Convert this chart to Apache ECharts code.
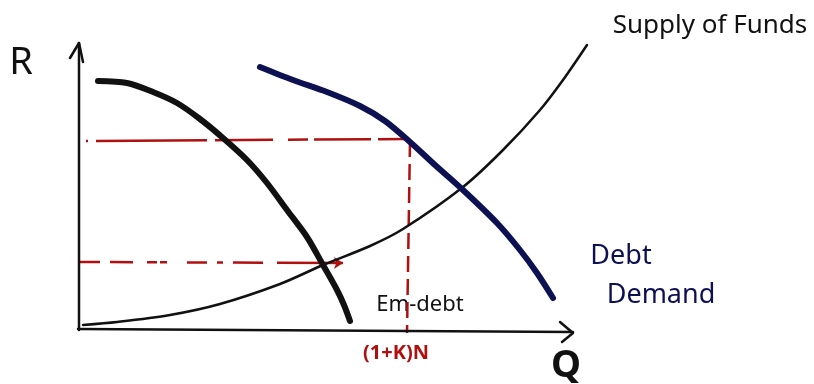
<!DOCTYPE html>
<html>
<head>
<meta charset="utf-8">
<script src="https://cdn.jsdelivr.net/npm/echarts@6/dist/echarts.min.js"></script>
<style>
  html, body { margin: 0; padding: 0; background: #fff; }
  #chart { width: 814px; height: 384px; }
</style>
</head>
<body>
<div id="chart"></div>
<script>
// Sketch units: Q to the right, R upwards, origin where the two axes meet.
const emDebt = [[19,249],[48,247],[74,238],[98,227],[121,211],[144,192],[168,170],[188,147],[208,120],[228,93],[244,65],[258,40],[265,25],[271,9]];
const debtDemand = [[181,263],[214,250],[248,238],[281,224],[306,209],[331,188],[356,165],[384,140],[418,107],[441,80],[458,57],[474,32]];
const supplyOfFunds = [[4,5],[38,8],[91,15],[141,26],[201,46],[244,65],[291,84],[324,101],[384,143],[424,180],[461,220],[484,250],[508,285]];

// Axes with open arrow heads
const rAxis = [[0,0],[0,287]];
const rArrow = [[-9,272],[0,287],[4,268]];
const qAxis = [[-1,1],[494,-2]];
const qArrow = [[481,8],[494,-3],[483,-12]];

// Guide lines: high rate level, (1+K)N quantity, low rate level
const highRate = [[7,189],[329,191]];
const capQuantity = [[331,189],[328,-3]];
const lowRate = [[-1,68],[264,67]];

const black = '#111111';
const navy = '#0d1152';
const red = '#b01010';

function poly(data, color, width, smooth) {
  return {
    type: 'line', data: data, symbol: 'none', smooth: smooth || 0, silent: true,
    lineStyle: { color: color, width: width, cap: 'round', join: 'round' }
  };
}
function guide(coords, dash, arrow) {
  return {
    type: 'lines', coordinateSystem: 'cartesian2d', polyline: false, silent: true,
    symbol: arrow ? ['none', 'arrow'] : ['none', 'none'], symbolSize: 9,
    lineStyle: { color: red, width: 2.5, type: dash, cap: 'butt', opacity: 1 },
    data: [{ coords: coords }]
  };
}

const chart = echarts.init(document.getElementById('chart'), null, { renderer: 'canvas' });
chart.setOption({
  animation: false,
  backgroundColor: '#ffffff',
  grid: { left: 0, right: 0, top: 0, bottom: 0 },
  xAxis: { type: 'value', min: -79, max: 735, show: false },
  yAxis: { type: 'value', min: -54, max: 330, show: false },
  series: [
    poly(rAxis, black, 2.5),
    poly(rArrow, black, 2.5),
    poly(qAxis, black, 2.5),
    poly(qArrow, black, 2.5),
    guide(highRate, [2, 8, 111, 8, 58, 15, 20, 6, 57, 7, 27, 6]),
    guide(capQuantity, [16, 7]),
    guide(lowRate, [22, 10, 23, 14, 10, 3, 7, 20, 20, 10, 6, 10, 30, 14, 66], true),
    poly(supplyOfFunds, black, 2.5, 0.3),
    poly(debtDemand, navy, 6, 0.3),
    poly(emDebt, black, 6, 0.3)
  ],
  graphic: [
    { type: 'text', x: 21, y: 63, style: { text: 'R', font: '38px "Noto Sans"', fill: black, align: 'center', verticalAlign: 'middle' } },
    { type: 'text', x: 566, y: 366, style: { text: 'Q', font: 'bold 38px "Noto Sans"', fill: black, align: 'center', verticalAlign: 'middle' } },
    { type: 'text', x: 710, y: 26, style: { text: 'Supply of Funds', font: '26px "Noto Sans"', fill: black, align: 'center', verticalAlign: 'middle' } },
    { type: 'text', x: 621, y: 256, style: { text: 'Debt', font: '27px "Noto Sans"', fill: navy, align: 'center', verticalAlign: 'middle' } },
    { type: 'text', x: 661, y: 295, style: { text: 'Demand', font: '27px "Noto Sans"', fill: navy, align: 'center', verticalAlign: 'middle' } },
    { type: 'text', x: 420, y: 305, style: { text: 'Em-debt', font: '22px "Noto Sans"', fill: black, align: 'center', verticalAlign: 'middle' } },
    { type: 'text', x: 396, y: 353, style: { text: '(1+K)N', font: 'bold 20px "Noto Sans"', fill: red, align: 'center', verticalAlign: 'middle' } }
  ]
});
</script>
</body>
</html>
